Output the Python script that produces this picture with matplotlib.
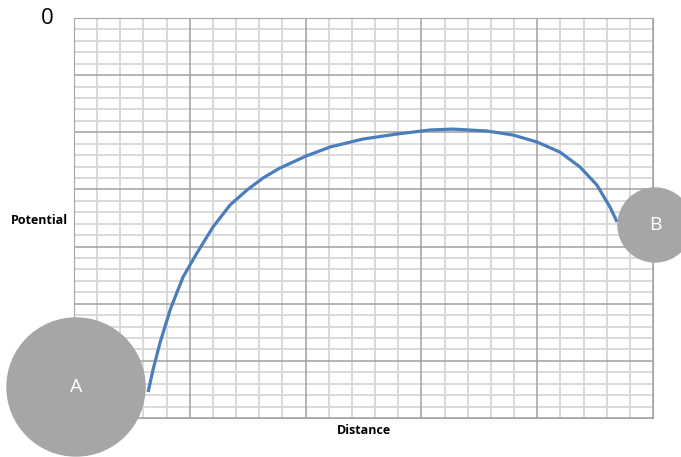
import matplotlib.pyplot as plt
from matplotlib.patches import Circle

plt.rcParams['font.family'] = ['Open Sans', 'DejaVu Sans']

# curve, in grid units (25 columns x 35 rows)
distance = [3.20, 3.41, 3.71, 4.15, 4.45, 4.71, 5.31, 6.00, 6.74, 7.47, 8.16, 8.89,
            10.02, 11.05, 12.48, 13.95, 15.37, 16.36, 17.83, 18.96, 19.99, 20.98,
            21.85, 22.58, 23.14, 23.45]
potential = [2.27, 4.20, 6.56, 9.45, 11.02, 12.34, 14.44, 16.71, 18.64, 19.95, 21.00, 21.87,
             22.92, 23.71, 24.41, 24.85, 25.20, 25.28, 25.11, 24.76, 24.15, 23.27,
             21.96, 20.38, 18.46, 17.15]

# charges (figure pixel coordinates: x, y from bottom, radius)
charges = {'A': (76, 70, 69), 'B': (655, 232, 37)}

fig = plt.figure(figsize=(6.81, 4.57), dpi=100)
ax = fig.add_axes([74 / 681, 39 / 457, 579 / 681, 400 / 457])
ax.set_xlim(0, 25)
ax.set_ylim(0, 35)

for i in range(26):
    if i % 5 == 0:
        ax.axvline(i, color='#a0a0a0', lw=1.1, zorder=2)
    else:
        ax.axvline(i, color='#d9d9d9', lw=1.4, zorder=1)
for j in range(36):
    if j % 5 == 0:
        ax.axhline(j, color='#a0a0a0', lw=1.1, zorder=2)
    else:
        ax.axhline(j, color='#d9d9d9', lw=1.4, zorder=1)
ax.set_xticks([])
ax.set_yticks([])
for s in ax.spines.values():
    s.set_color('#a6a6a6')

ax.plot(distance, potential, color='#4a7ebb', lw=2.3, zorder=3,
        solid_capstyle='butt', solid_joinstyle='round')

ax.set_xlabel('Distance', fontsize=9, fontweight='bold', labelpad=4)
ax.set_ylabel('Potential', fontsize=9, fontweight='bold', rotation=0, ha='right', va='center')
ax.yaxis.set_label_coords(-0.01, 0.495)
fig.text(47 / 681, 1 - 18 / 457, '0', fontsize=16, ha='center', va='center')

over = fig.add_axes([0, 0, 1, 1])
over.set_xlim(0, 681)
over.set_ylim(0, 457)
over.axis('off')
for name, (cx, cy, r) in charges.items():
    over.add_patch(Circle((cx, cy), r, color='#a6a6a6', zorder=5))
    over.text(cx, cy, name, color='white', fontsize=14, ha='center', va='center', zorder=6)

fig.savefig('out.png', dpi=100)
